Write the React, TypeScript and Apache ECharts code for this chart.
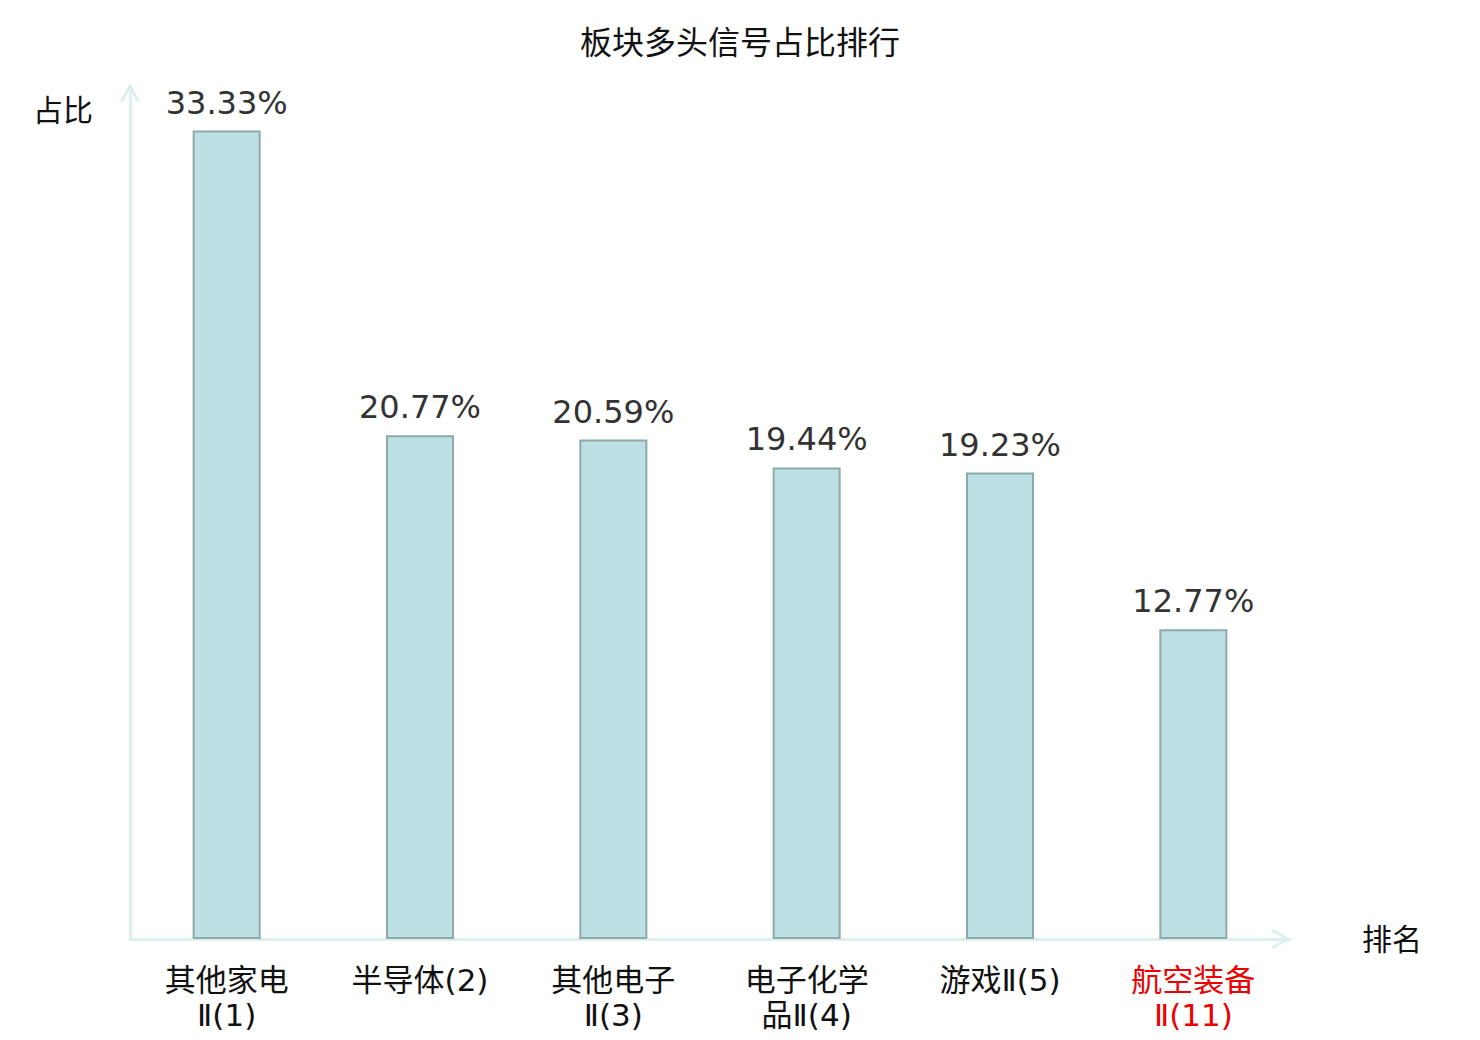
import React, { useEffect, useRef } from "react";
import * as echarts from "echarts";

const titleText = "板块多头信号占比排行";
const categories = ["其他家电Ⅱ(1)", "半导体(2)", "其他电子Ⅱ(3)", "电子化学品Ⅱ(4)", "游戏Ⅱ(5)", "航空装备Ⅱ(11)"];
const tickLabels = ["其他家电\nⅡ(1)", "半导体(2)", "其他电子\nⅡ(3)", "电子化学\n品Ⅱ(4)", "游戏Ⅱ(5)", "航空装备\nⅡ(11)"];
const highlighted = ["航空装备Ⅱ(11)"];
const values = [33.33, 20.77, 20.59, 19.44, 19.23, 12.77];
const yMax = 35;

const FONT = "'DejaVu Sans', 'Noto Sans CJK SC', sans-serif";
const AXIS_COLOR = "#dcf1ee";
const CHEVRON = "path://M10,0 L20,18 L17.4,19.6 L10,6 L2.6,19.6 L0,18 Z";

export default function App() {
  const ref = useRef<HTMLDivElement>(null);
  useEffect(() => {
    if (!ref.current) return;
    const chart = echarts.init(ref.current, null, { renderer: "svg" });
    chart.setOption({
      animation: false,
      backgroundColor: "#ffffff",
      title: {
        text: titleText,
        left: "center",
        top: 14,
        textStyle: { fontFamily: FONT, fontSize: 32, fontWeight: "normal", color: "#111" },
      },
      grid: { left: 122, right: 182, top: 82, bottom: 93, containLabel: false },
      xAxis: {
        type: "category",
        data: categories.map((c) => ({
          value: c,
          textStyle: highlighted.includes(c) ? { color: "#ee0000" } : undefined,
        })),
        name: "排名",
        nameLocation: "end",
        nameGap: 72,
        nameTextStyle: {
          fontFamily: FONT,
          fontSize: 30,
          color: "#111",
          verticalAlign: "middle",
          padding: [5, 0, 0, 0],
        },
        axisLine: {
          show: true,
          symbol: ["none", CHEVRON],
          symbolSize: [20, 22],
          symbolOffset: [0, -9],
          lineStyle: { color: AXIS_COLOR, width: 3 },
        },
        axisTick: { show: false },
        axisLabel: {
          interval: 0,
          margin: 23,
          fontFamily: FONT,
          fontSize: 31,
          lineHeight: 35,
          color: "#111",
          formatter: (_v: string, idx: number) => tickLabels[idx],
        },
      },
      yAxis: {
        type: "value",
        min: 0,
        max: yMax,
        name: "占比",
        nameLocation: "end",
        nameGap: -20,
        nameTextStyle: {
          fontFamily: FONT,
          fontSize: 30,
          color: "#111",
          align: "right",
          verticalAlign: "middle",
          padding: [0, 37, 0, 0],
        },
        axisLine: {
          show: true,
          symbol: ["none", CHEVRON],
          symbolSize: [20, 22],
          symbolOffset: [0, -3],
          lineStyle: { color: AXIS_COLOR, width: 3 },
        },
        axisTick: { show: false },
        axisLabel: { show: false },
        splitLine: { show: false },
      },
      series: [
        {
          type: "bar",
          data: values,
          barWidth: 68,
          itemStyle: { color: "#bce0e3", borderColor: "#8ea9a9", borderWidth: 2 },
          label: {
            show: true,
            position: "top",
            distance: 12,
            fontFamily: FONT,
            fontSize: 32,
            color: "#333",
            formatter: (p: any) => p.value.toFixed(2) + "%",
          },
        },
      ],
    });
    return () => chart.dispose();
  }, []);
  return <div ref={ref} style={{ width: 1464, height: 1024 }} />;
}
